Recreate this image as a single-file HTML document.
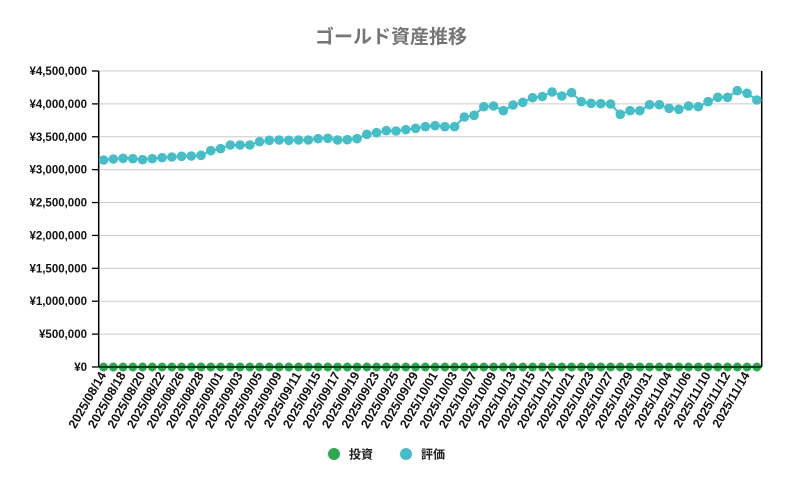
<!DOCTYPE html>
<html><head><meta charset="utf-8"><style>
html,body{margin:0;padding:0;background:#fff;}
svg text{font-family:"Liberation Sans","Noto Sans CJK JP",sans-serif;}
</style></head><body>
<svg id="c" width="786" height="485" xmlns="http://www.w3.org/2000/svg">
<rect width="786" height="485" fill="#fff"/>
<text x="391" y="43" text-anchor="middle" font-size="19" font-weight="bold" fill="#757575">ゴールド資産推移</text>
<g id="grid"></g>
<g id="s"></g>
<g font-size="12" font-weight="bold" fill="#222">
<circle cx="334" cy="454" r="6" fill="#2fa84f"/><text x="349" y="458.5">投資</text>
<circle cx="406" cy="454" r="6" fill="#45bec7"/><text x="421" y="458.5">評価</text>
</g>
</svg>
<script>
const ns="http://www.w3.org/2000/svg";
function el(p,t,a,txt){const e=document.createElementNS(ns,t);for(const k in a)e.setAttribute(k,a[k]);if(txt)e.textContent=txt;p.appendChild(e);return e;}
const g=document.getElementById('grid'),s=document.getElementById('s');
const L=98.7,R=761.7,T=71,B=367;
const ylab=["¥0","¥500,000","¥1,000,000","¥1,500,000","¥2,000,000","¥2,500,000","¥3,000,000","¥3,500,000","¥4,000,000","¥4,500,000"];
for(let i=0;i<10;i++){const y=B-(B-T)*i/9;
 if(i>0)el(g,'line',{x1:L,x2:R,y1:y,y2:y,stroke:'#cccccc','stroke-width':1});
 el(g,'line',{x1:92,x2:L,y1:y,y2:y,stroke:'#000','stroke-width':1.3});
 el(g,'text',{x:87,y:y+4,'text-anchor':'end','font-size':11.5,'font-weight':'bold',fill:'#111'},ylab[i]);}
el(g,'line',{x1:L,x2:L,y1:T,y2:B,stroke:'#000','stroke-width':1.5});
el(g,'line',{x1:R,x2:R,y1:T,y2:B,stroke:'#000','stroke-width':1.5});
const ys=[160,159,158.3,158.7,159.7,158.7,157.7,157,156.3,156,155.3,150.7,148.7,145,145,145,141.7,140.3,140,140.3,140,140,138.7,
138.3,140,139.7,138.7,134.3,132.7,130.7,131,129.7,128.3,126.7,125.7,126.7,126.7,117,115.3,106.7,106,110.7,105,102.3,97.7,96.5,92,
96,92.7,101.7,103.3,103.7,104,114.3,110.7,110.7,104.7,104.7,108.3,109.3,106,106.7,101.7,97.3,97.3,90.7,93.3,100];
const labs=["2025/08/14","2025/08/18","2025/08/20","2025/08/22","2025/08/26","2025/08/28","2025/09/01","2025/09/03","2025/09/05","2025/09/09","2025/09/11","2025/09/15","2025/09/17","2025/09/19","2025/09/23","2025/09/25","2025/09/29","2025/10/01","2025/10/03","2025/10/07","2025/10/09","2025/10/13","2025/10/15","2025/10/17","2025/10/21","2025/10/23","2025/10/27","2025/10/29","2025/10/31","2025/11/04","2025/11/06","2025/11/10","2025/11/12","2025/11/14"];
const n=ys.length,step=(R-L)/n;
const X=i=>L+step*(i+0.5);
let p1="",p2="";
for(let i=0;i<n;i++){p1+=(i?"L":"M")+X(i)+","+ys[i];p2+=(i?"L":"M")+X(i)+","+B;}
el(s,'path',{d:p2,fill:'none',stroke:'#2fa84f','stroke-width':2});
el(s,'path',{d:p1,fill:'none',stroke:'#45bec7','stroke-width':2});
for(let i=0;i<n;i++){el(s,'circle',{cx:X(i),cy:B,r:4.5,fill:'#2fa84f'});el(s,'circle',{cx:X(i),cy:ys[i],r:4.8,fill:'#45bec7'});}
el(s,'line',{x1:L,x2:R,y1:B,y2:B,stroke:'#000','stroke-width':1.3});
for(let k=0;k<labs.length;k++){const x=X(2*k)+3,y=375;
 el(s,'text',{x:x,y:y,'text-anchor':'end','font-size':12.5,'font-weight':'bold',fill:'#111',transform:`rotate(-60 ${x} ${y})`},labs[k]);}
</script>
</body></html>
